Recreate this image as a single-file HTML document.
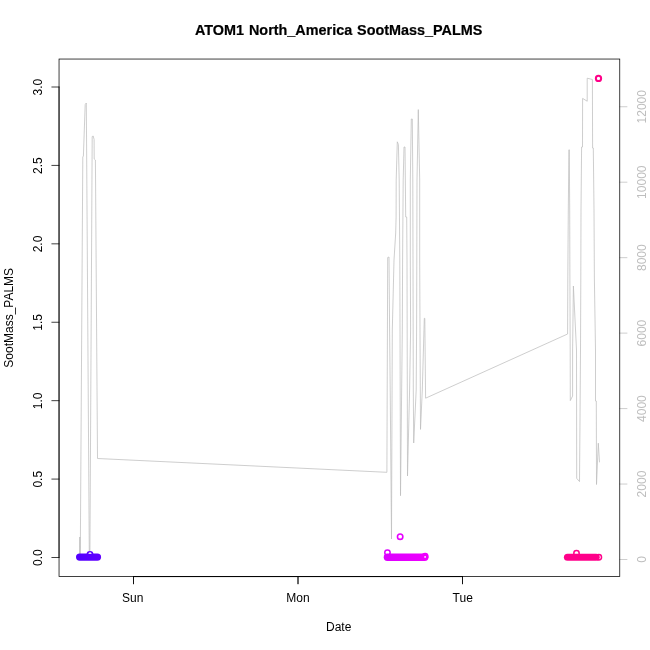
<!DOCTYPE html>
<html>
<head>
<meta charset="utf-8">
<title>ATOM1 North_America SootMass_PALMS</title>
<style>
html,body{margin:0;padding:0;background:#fff;}
body{width:650px;height:650px;overflow:hidden;font-family:"Liberation Sans",sans-serif;}
svg{display:block;position:absolute;left:0;top:0;will-change:transform;}
text{font-family:"Liberation Sans",sans-serif;}
</style>
</head>
<body>
<svg width="650" height="650" viewBox="0 0 650 650">
<rect x="0" y="0" width="650" height="650" fill="#ffffff"/>

<!-- altitude line (right axis) -->
<g fill="none" stroke="#bebebe" stroke-width="0.75" stroke-linejoin="round" stroke-linecap="butt">
<path d="M79.6,557 L79.8,537 L80.0,556 L80.3,555 L82.8,157 L83.4,156 L85.2,104.5 L86.3,103 L86.7,160 L89.3,556 L89.9,556 L92.2,136.5 L93.2,136 L94.1,139.5 L94.2,159 L95.4,160 L95.6,185 L97.5,458.5
 L386.9,472.3
 L387.7,257.5 L389,257 L389.6,330 L390.3,400 L391.5,539
 L392.3,330 L394,260 L395.7,233 L396.1,217 L396.2,180 L397.3,141.8 L398.4,144.5 L399.2,180 L399.8,260 L400.5,495.7
 L402.3,330 L402.6,260 L403.2,180 L404,147 L405,147 L405.7,217 L406.7,217 L407,260 L407.5,476
 L409.6,390 L410.6,330 L410.3,260 L410.3,180 L411.3,119 L412.3,119 L412.8,180 L413,260 L413.3,390 L413.7,443
 L416.2,390 L416.6,330 L416.8,260 L417.0,180 L418.3,109.6 L419.7,180 L419.7,260 L420,330 L420.5,429.4
 L422.3,390 L424.3,318.3 L424.8,318.3 L425.6,398.2
 L567.6,334
 L567.8,280 L568.3,210 L568.9,149.8 L569.3,149.8 L569.7,210 L569.9,280 L570.2,350 L570.3,400.6 L572.6,396 L572.6,350 L573.4,286 L576.5,350 L576.7,478.3 L579.5,481.6 L580,420 L580.5,350 L580.8,280 L581,210 L581.6,147 L582.5,147 L582.6,98.4 L587.2,101.2 L587.2,78.2 L592.4,79.5 L592.6,148 L593.3,148 L594,210 L594.4,280 L595.5,350 L595.5,401 L596.3,401 L596.5,484.5 L598.3,443.2 L599.5,462.3"/>
</g>

<!-- points -->
<defs>
<linearGradient id="g1" gradientUnits="userSpaceOnUse" x1="76" y1="0" x2="101" y2="0"><stop offset="0" stop-color="#5200ff"/><stop offset="1" stop-color="#6200ff"/></linearGradient>
<linearGradient id="g2" gradientUnits="userSpaceOnUse" x1="384" y1="0" x2="429" y2="0"><stop offset="0" stop-color="#dc00ff"/><stop offset="1" stop-color="#f000ff"/></linearGradient>
</defs>
<g fill="none" stroke-linecap="round">
<line x1="79.7" y1="557.1" x2="97.4" y2="557.1" stroke="url(#g1)" stroke-width="7.4"/>
<circle cx="90" cy="554.5" r="2.7" stroke="#5b00ff" stroke-width="1.5"/>
<ellipse cx="90" cy="553.15" rx="1.3" ry="0.6" fill="#fff" stroke="none"/>
<line x1="387.4" y1="557.3" x2="424.8" y2="557.3" stroke="url(#g2)" stroke-width="7.4"/>
<circle cx="387.45" cy="552.6" r="2.7" stroke="#dc00ff" stroke-width="1.5"/>
<circle cx="425.1" cy="556.2" r="2.7" stroke="#f000ff" stroke-width="1.5"/>
<circle cx="425.1" cy="556.9" r="0.85" fill="#fff" stroke="none"/>
<circle cx="400.15" cy="536.7" r="2.7" stroke="#e600ff" stroke-width="1.6"/>
<line x1="567.5" y1="557.25" x2="596.1" y2="557.25" stroke="#ff008a" stroke-width="7.2"/>
<circle cx="598.85" cy="557.25" r="2.7" stroke="#ff008a" stroke-width="1.5"/>
<circle cx="576.5" cy="553.25" r="2.7" stroke="#ff008a" stroke-width="1.5"/>
<circle cx="598.5" cy="78.4" r="2.65" stroke="#ff0088" stroke-width="2"/>
</g>

<!-- right axis -->
<g fill="none" stroke="#bebebe" stroke-width="0.75" stroke-linecap="round">
<path d="M619.76,559.5 h7.2 M619.76,484.04 h7.2 M619.76,408.58 h7.2 M619.76,333.12 h7.2 M619.76,257.66 h7.2 M619.76,182.2 h7.2 M619.76,106.74 h7.2"/>
</g>

<!-- box -->
<g fill="none" stroke="#000" stroke-width="0.75" stroke-linecap="round">
<rect x="59.04" y="59.04" width="560.72" height="517.52"/>
<!-- x axis -->
<path d="M133.5,576.56 L462.5,576.56 M133.5,576.56 v7.2 M298.0,576.56 v7.2 M462.5,576.56 v7.2"/>
<path d="M133.5,576.56 L462.5,576.56 M133.5,576.56 v7.2 M298.0,576.56 v7.2 M462.5,576.56 v7.2"/>
<!-- y axis -->
<path d="M59.04,557.5 L59.04,87.0 M59.04,557.5 h-7.2 M59.04,479.08 h-7.2 M59.04,400.67 h-7.2 M59.04,322.25 h-7.2 M59.04,243.83 h-7.2 M59.04,165.41 h-7.2 M59.04,87.0 h-7.2"/>
</g>
<!-- text -->
<text transform="translate(338.7,34.7) scale(1,1.04)" font-size="14.4" font-weight="bold" stroke="#000" stroke-width="0.2" text-anchor="middle" word-spacing="0.9" fill="#000">ATOM1 North_America SootMass_PALMS</text>
<text x="338.7" y="630.9" font-size="12" text-anchor="middle" fill="#000">Date</text>
<text transform="translate(13.2,317.8) rotate(-90)" font-size="12" text-anchor="middle" fill="#000">SootMass_PALMS</text>
<g font-size="12" text-anchor="middle" fill="#000">
<text x="132.7" y="601.8">Sun</text>
<text x="297.9" y="601.8">Mon</text>
<text x="462.7" y="601.8">Tue</text>
<text transform="translate(42,557.7) rotate(-90)">0.0</text>
<text transform="translate(42,479.28) rotate(-90)">0.5</text>
<text transform="translate(42,400.87) rotate(-90)">1.0</text>
<text transform="translate(42,322.45) rotate(-90)">1.5</text>
<text transform="translate(42,244.03) rotate(-90)">2.0</text>
<text transform="translate(42,165.61) rotate(-90)">2.5</text>
<text transform="translate(42,87.2) rotate(-90)">3.0</text>
</g>
<g font-size="12" text-anchor="middle" fill="#bebebe">
<text transform="translate(646.2,559.5) rotate(-90)">0</text>
<text transform="translate(646.2,484.04) rotate(-90)">2000</text>
<text transform="translate(646.2,408.58) rotate(-90)">4000</text>
<text transform="translate(646.2,333.12) rotate(-90)">6000</text>
<text transform="translate(646.2,257.66) rotate(-90)">8000</text>
<text transform="translate(646.2,182.2) rotate(-90)">10000</text>
<text transform="translate(646.2,106.74) rotate(-90)">12000</text>
</g>
</svg>
</body>
</html>
